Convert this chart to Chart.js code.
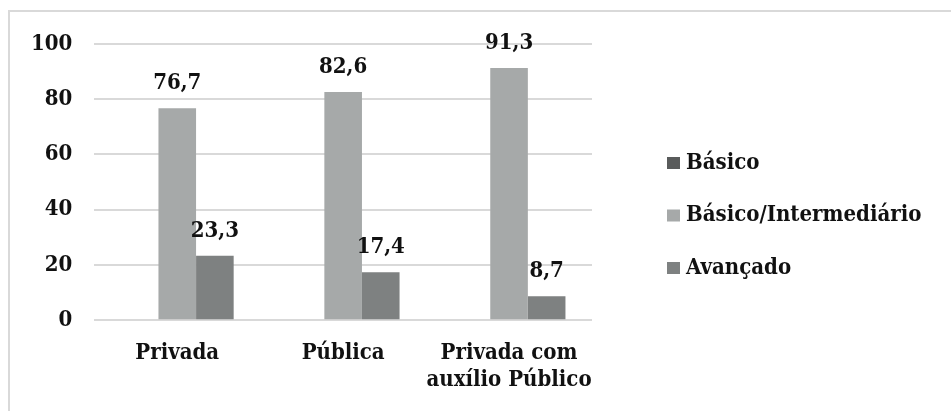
<!DOCTYPE html>
<html>
<head>
<meta charset="utf-8">
<script src="https://cdn.jsdelivr.net/npm/chart.js@4/dist/chart.umd.min.js"></script>
<style>
  html, body { margin: 0; padding: 0; background: #fff; }
  #wrap { position: relative; width: 951px; height: 411px; overflow: hidden; }
  #frame { position: absolute; left: 8px; top: 10px; width: 1000px; height: 500px;
           border-top: 2px solid #d9d9d9; border-left: 2px solid #d9d9d9; }
  #chart { position: absolute; left: 0; top: 0; }
</style>
</head>
<body>
<div id="wrap">
  <div id="frame"></div>
  <canvas id="chart" width="951" height="411"></canvas>
</div>
<script>
const categories = ['Privada', 'Pública', ['Privada com', 'auxílio Público']];
const basico = [0, 0, 0];
const basicoIntermediario = [76.7, 82.6, 91.3];
const avancado = [23.3, 17.4, 8.7];
const yTicks = [0, 20, 40, 60, 80, 100];

const FONT = "'DejaVu Serif Condensed', 'DejaVu Serif', serif";
const FONT_SIZE = 22;

// value labels above each non-zero bar, decimal comma
const barLabels = {
  id: 'barLabels',
  afterDatasetsDraw(chart) {
    const ctx = chart.ctx;
    ctx.save();
    ctx.font = 'bold ' + FONT_SIZE + 'px ' + FONT;
    ctx.fillStyle = '#111';
    ctx.textAlign = 'center';
    ctx.textBaseline = 'alphabetic';
    chart.data.datasets.forEach((ds, i) => {
      const meta = chart.getDatasetMeta(i);
      meta.data.forEach((bar, j) => {
        const v = ds.data[j];
        if (!v) return;
        ctx.fillText(v.toFixed(1).replace('.', ','), bar.x, bar.y - 19);
      });
    });
    ctx.restore();
  }
};

// legend column to the right of the plot
const sideLegend = {
  id: 'sideLegend',
  afterDraw(chart) {
    const ctx = chart.ctx;
    const x = 667;
    const y0 = 163, step = 52.5;
    ctx.save();
    ctx.font = 'bold ' + FONT_SIZE + 'px ' + FONT;
    ctx.textBaseline = 'middle';
    ctx.textAlign = 'left';
    chart.data.datasets.forEach((ds, i) => {
      const y = y0 + i * step;
      ctx.fillStyle = ds.backgroundColor;
      ctx.fillRect(x, y - 6, 13, 12);
      ctx.fillStyle = '#111';
      ctx.fillText(ds.label, x + 19, y);
    });
    ctx.restore();
  }
};

new Chart(document.getElementById('chart'), {
  type: 'bar',
  data: {
    labels: categories,
    datasets: [
      { label: 'Básico', data: basico, backgroundColor: '#595b5b' },
      { label: 'Básico/Intermediário', data: basicoIntermediario, backgroundColor: '#a6a9a9' },
      { label: 'Avançado', data: avancado, backgroundColor: '#7e8181' }
    ]
  },
  options: {
    responsive: false,
    animation: false,
    layout: { padding: { top: 44, left: 9, right: 359, bottom: 6 } },
    datasets: {
      bar: { categoryPercentage: 0.68, barPercentage: 1.0, borderWidth: 0 }
    },
    scales: {
      x: {
        grid: { display: false },
        border: { display: false },
        ticks: {
          color: '#111',
          font: { family: FONT, size: FONT_SIZE, weight: 'bold' },
          padding: 12,
          maxRotation: 0,
          autoSkip: false
        }
      },
      y: {
        min: 0,
        max: 100,
        afterBuildTicks: (scale) => { scale.ticks = yTicks.map(v => ({ value: v })); },
        grid: { color: '#d9d9d9', lineWidth: 2, drawTicks: false },
        border: { display: false },
        ticks: {
          color: '#111',
          font: { family: FONT, size: FONT_SIZE, weight: 'bold' },
          padding: 22
        }
      }
    },
    plugins: {
      legend: { display: false },
      tooltip: { enabled: false }
    }
  },
  plugins: [barLabels, sideLegend]
});
</script>
</body>
</html>
